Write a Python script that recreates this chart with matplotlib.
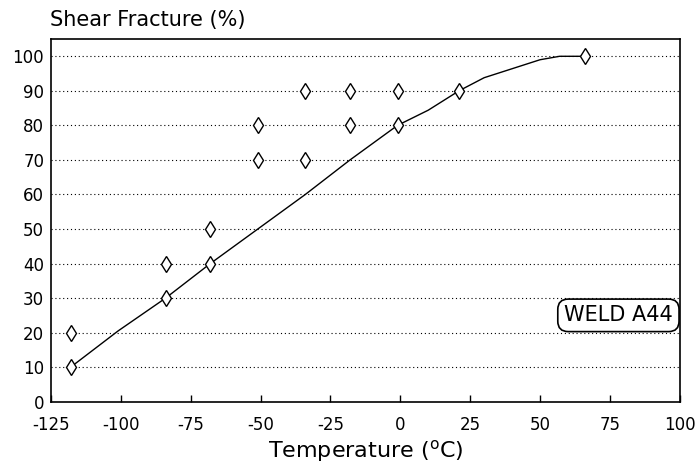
import matplotlib
matplotlib.use("Agg")
import matplotlib.pyplot as plt

# Charpy shear-fracture measurements for weld A44
temp_c = [-118, -118, -84, -84, -68, -68, -51, -51, -34, -34, -18, -18, -1, -1, 21, 66]
shear_pct = [10, 20, 30, 40, 40, 50, 70, 80, 70, 90, 80, 90, 80, 90, 90, 100]

# Fitted transition curve
fit_t = [-118, -101, -84, -68, -51, -34, -18, -1, 10, 21, 30, 40, 50, 57, 66]
fit_s = [10, 20.5, 30, 40, 50, 60, 70, 80, 84.4, 90, 93.8, 96.4, 99.0, 100, 100]

xticks = [-125, -100, -75, -50, -25, 0, 25, 50, 75, 100]
yticks = [0, 10, 20, 30, 40, 50, 60, 70, 80, 90, 100]

plt.rcParams['font.family'] = ['DejaVu Sans']
plt.rcParams['axes.unicode_minus'] = False

fig = plt.figure(figsize=(7.0, 4.69), dpi=100)
ax = fig.add_axes([0.073, 0.1435, 0.898, 0.7733])

for y in yticks[1:]:
    ax.axhline(y, color='black', lw=0.8, ls=(0, (1, 2.5)), zorder=1)

ax.plot(fit_t, fit_s, color='black', lw=1.0, zorder=2)
ax.plot(temp_c, shear_pct, ls='none', marker='d', ms=8, mfc='white',
        mec='black', mew=1.0, zorder=3)

ax.set_xlim(-125, 100)
ax.set_ylim(0, 105)
ax.set_xticks(xticks)
ax.set_yticks(yticks)
ax.tick_params(direction='in', length=5, width=1, labelsize=12, pad=10)
ax.tick_params(axis='y', length=0, pad=5)
for s in ax.spines.values():
    s.set_linewidth(1.2)

ax.set_xlabel('Temperature ($^{\\mathrm{o}}$C)', fontsize=16, labelpad=3)
fig.text(0.072, 0.935, 'Shear Fracture (%)', fontsize=15, ha='left', va='bottom')

ax.text(0.989, 25, 'WELD A44', transform=ax.get_yaxis_transform(),
        ha='right', va='center', fontsize=15,
        bbox=dict(boxstyle='round,pad=0.3,rounding_size=0.5', fc='white',
                  ec='black', lw=1.2))

fig.savefig('out.png', dpi=100)
